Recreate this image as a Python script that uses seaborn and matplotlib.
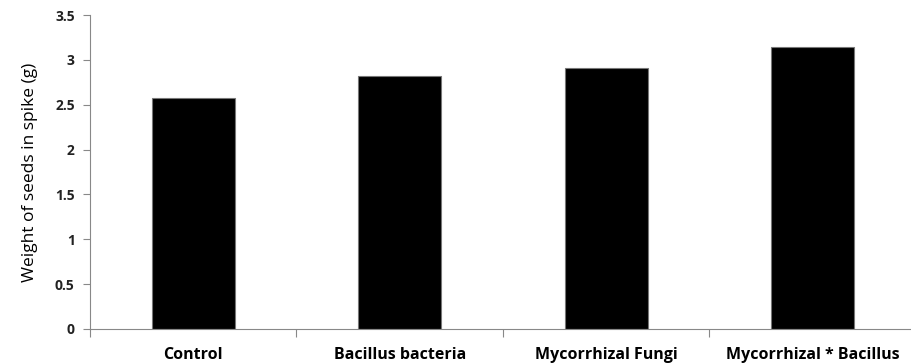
import matplotlib
matplotlib.use("Agg")
import matplotlib.pyplot as plt
import seaborn as sns
import pandas as pd

categories = ["Control", "Bacillus bacteria", "Mycorrhizal Fungi", "Mycorrhizal * Bacillus"]
values = [2.57, 2.82, 2.91, 3.14]
yticks = [0, 0.5, 1, 1.5, 2, 2.5, 3, 3.5]
ytick_labels = ["0", "0.5", "1", "1.5", "2", "2.5", "3", "3.5"]

sns.set_style("white")
plt.rcParams['font.family'] = ['Open Sans', 'DejaVu Sans']

df = pd.DataFrame({"cat": categories, "val": values})
W, H = 912, 363
fig = plt.figure(figsize=(W / 100, H / 100), dpi=100)
ax = fig.add_axes([90 / W, (H - 329) / H, (916 - 90) / W, (329 - 15) / H])
sns.barplot(data=df, x="cat", y="val", color="black", width=0.4,
            edgecolor="#777777", linewidth=0.8, ax=ax, saturation=1)
ax.set_xlim(-0.5, 3.5)
ax.set_ylim(0, 3.5)
ax.set_yticks(yticks)
ax.set_yticklabels(ytick_labels, fontsize=10, fontweight="bold", color="#222222")
ax.set_xticks(range(len(categories)))
ax.set_xticklabels(categories, fontsize=11.5, fontweight="bold", color="black")
ax.tick_params(axis="x", length=0, pad=13)
ax.set_xticks([-0.5, 0.5, 1.5, 2.5], minor=True)
ax.tick_params(axis="x", which="minor", length=6, color="#888888", width=0.8, direction="out", bottom=True)
ax.tick_params(axis="y", length=5, color="#888888", width=0.8, direction="out", left=True, pad=6)
for s in ["top", "right"]:
    ax.spines[s].set_visible(False)
for s in ["left", "bottom"]:
    ax.spines[s].set_color("#888888")
    ax.spines[s].set_linewidth(0.8)
ax.set_xlabel("")
ax.set_ylabel("Weight of seeds in spike (g)", fontsize=12.5, color="black", labelpad=12)
fig.savefig("out.png", dpi=100)
